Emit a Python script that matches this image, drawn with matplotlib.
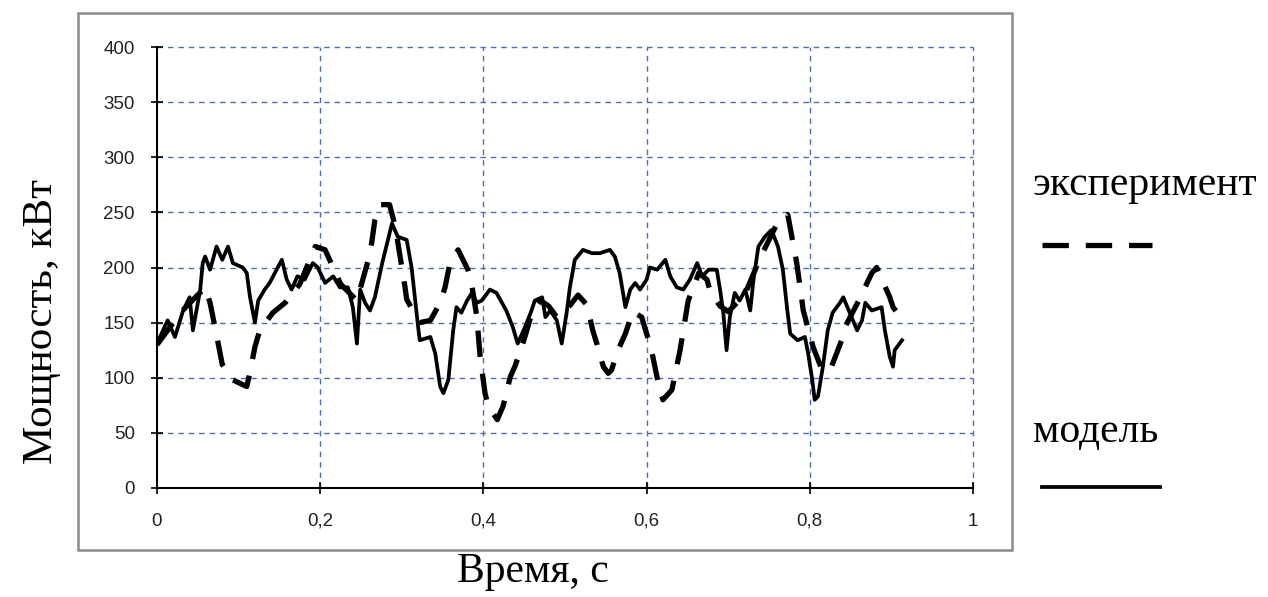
import numpy as np
import matplotlib
matplotlib.use("Agg")
import matplotlib.pyplot as plt
from matplotlib.lines import Line2D
from matplotlib.patches import Rectangle
from matplotlib.ticker import FuncFormatter

# --- model (solid line) ---
model_t = [0.0, 0.013, 0.022, 0.032, 0.04, 0.044, 0.053, 0.056, 0.059, 0.065,
           0.073, 0.08, 0.087, 0.093, 0.105, 0.11, 0.114, 0.12, 0.124, 0.132,
           0.138, 0.148, 0.153, 0.159, 0.165, 0.172, 0.181, 0.191, 0.197, 0.206,
           0.216, 0.224, 0.234, 0.24, 0.245, 0.249, 0.255, 0.261, 0.267, 0.276,
           0.283, 0.288, 0.295, 0.306, 0.312, 0.316, 0.32, 0.322, 0.335, 0.341,
           0.347, 0.351, 0.357, 0.363, 0.367, 0.373, 0.38, 0.386, 0.392, 0.398,
           0.408, 0.416, 0.428, 0.436, 0.442, 0.451, 0.459, 0.463, 0.472, 0.476,
           0.482, 0.49, 0.496, 0.502, 0.506, 0.512, 0.522, 0.533, 0.543, 0.555,
           0.561, 0.567, 0.574, 0.58, 0.586, 0.592, 0.6, 0.604, 0.613, 0.623,
           0.629, 0.637, 0.645, 0.653, 0.662, 0.668, 0.676, 0.686, 0.69, 0.694,
           0.698, 0.702, 0.708, 0.714, 0.721, 0.727, 0.731, 0.737, 0.745, 0.753,
           0.761, 0.767, 0.772, 0.776, 0.785, 0.794, 0.798, 0.803, 0.806, 0.81,
           0.816, 0.822, 0.828, 0.837, 0.841, 0.849, 0.858, 0.864, 0.868, 0.876,
           0.888, 0.892, 0.898, 0.902, 0.904, 0.913]
model_p = [131, 152, 137, 161, 173, 143, 180, 204, 210, 198,
           219, 207, 219, 204, 200, 195, 173, 150, 170, 180,
           186, 200, 207, 189, 180, 192, 189, 204, 200, 186,
           192, 182, 182, 164, 131, 180, 168, 161, 173, 204,
           225, 240, 228, 225, 200, 173, 146, 134, 137, 122,
           92, 86, 98, 143, 164, 159, 170, 177, 168, 170,
           180, 177, 161, 146, 131, 146, 161, 170, 173, 155,
           161, 152, 131, 159, 182, 207, 216, 213, 213, 216,
           210, 195, 164, 180, 186, 180, 189, 200, 198, 207,
           192, 182, 180, 189, 204, 192, 198, 198, 180, 159,
           125, 155, 177, 170, 180, 161, 189, 219, 228, 234,
           219, 198, 164, 140, 134, 137, 122, 98, 80, 83,
           110, 143, 159, 168, 173, 159, 143, 152, 168, 161,
           164, 143, 119, 110, 125, 134]

# --- experiment (dashed line) ---
exp_t = [0.0, 0.03, 0.059, 0.065, 0.071, 0.075, 0.08, 0.093, 0.11, 0.114,
         0.12, 0.126, 0.142, 0.157, 0.175, 0.194, 0.206, 0.225, 0.245, 0.259,
         0.263, 0.267, 0.273, 0.285, 0.292, 0.304, 0.306, 0.322, 0.335, 0.347,
         0.353, 0.359, 0.369, 0.381, 0.386, 0.392, 0.396, 0.402, 0.406, 0.417,
         0.424, 0.433, 0.439, 0.45, 0.46, 0.47, 0.48, 0.49, 0.5, 0.516,
         0.527, 0.534, 0.539, 0.547, 0.553, 0.557, 0.565, 0.574, 0.583, 0.594,
         0.606, 0.616, 0.62, 0.631, 0.641, 0.651, 0.664, 0.674, 0.678, 0.69,
         0.70, 0.72, 0.74, 0.76, 0.773, 0.784, 0.792, 0.804, 0.815, 0.825,
         0.839, 0.841, 0.86, 0.876, 0.882, 0.898, 0.902, 0.906]
exp_p = [130, 160, 182, 168, 146, 131, 112, 98, 92, 105,
         128, 143, 159, 168, 185, 219, 216, 185, 170, 207,
         222, 243, 257, 257, 237, 182, 171, 150, 152, 168,
         182, 204, 216, 198, 183, 155, 119, 86, 74, 62,
         74, 101, 111, 135, 160, 170, 165, 155, 160, 175,
         166, 143, 131, 110, 104, 107, 125, 140, 160, 155,
         125, 89, 80, 89, 125, 170, 195, 189, 178, 165,
         160, 175, 210, 240, 248, 204, 161, 128, 107, 107,
         134, 143, 170, 195, 200, 173, 164, 160]

x_ticks = [0, 0.2, 0.4, 0.6, 0.8, 1]
y_ticks = [0, 50, 100, 150, 200, 250, 300, 350, 400]

fig = plt.figure(figsize=(12.68, 5.97), dpi=100)

# grey frame around the plot area (Excel chart border)
fig.add_artist(Rectangle((78 / 1268.0, 1 - 550 / 597.0), 934 / 1268.0, 537 / 597.0,
                         transform=fig.transFigure, fill=False,
                         edgecolor="#8c8c8c", linewidth=1.8))

ax = fig.add_axes([157 / 1268.0, 1 - 488 / 597.0, 816 / 1268.0, 441 / 597.0])

ax.plot(exp_t, exp_p, color="black", linewidth=3.8, linestyle=(0, (5, 3.2)),
        solid_capstyle="butt", dash_capstyle="butt")
ax.plot(model_t, model_p, color="black", linewidth=2.7, solid_joinstyle="round")

ax.set_xlim(0, 1)
ax.set_ylim(0, 400)
ax.set_xticks(x_ticks)
ax.set_yticks(y_ticks)
ax.xaxis.set_major_formatter(FuncFormatter(lambda v, p: ("%g" % v).replace(".", ",")))

grid_style = dict(color="#4a6fb5", linewidth=1.0, linestyle=(0, (4, 3.5)), clip_on=False)
for v in y_ticks[1:]:
    ax.axhline(v, zorder=0, **grid_style)
for v in x_ticks[1:]:
    ax.axvline(v, zorder=0, **grid_style)

for s in ["top", "right"]:
    ax.spines[s].set_visible(False)
ax.spines["left"].set_linewidth(1.5)
ax.spines["bottom"].set_linewidth(1.5)
ax.tick_params(direction="inout", length=8, width=1.2, colors="black",
               labelsize=13.5)
ax.tick_params(axis="y", pad=12)
ax.tick_params(axis="x", pad=14)
for lab in ax.get_xticklabels() + ax.get_yticklabels():
    lab.set_fontfamily("Liberation Sans")
    lab.set_color("#222222")

serif = "Liberation Serif"
fig.text(42 / 1268.0, 1 - 322 / 597.0, "Мощность, кВт", rotation=90,
         ha="center", va="center", fontsize=31, family=serif)
fig.text(533 / 1268.0, 1 - 572 / 597.0, "Время, с",
         ha="center", va="center", fontsize=30, family=serif)

# legend drawn to the right, as in the source
fig.text(1033 / 1268.0, 1 - 185 / 597.0, "эксперимент",
         ha="left", va="center", fontsize=30, family=serif)
fig.text(1033 / 1268.0, 1 - 432 / 597.0, "модель",
         ha="left", va="center", fontsize=30, family=serif)
fig.add_artist(Line2D([1042 / 1268.0, 1152 / 1268.0], [1 - 245 / 597.0] * 2,
                      transform=fig.transFigure, color="black", linewidth=3.8,
                      linestyle=(0, (5, 3.2)), dash_capstyle="butt"))
fig.add_artist(Line2D([1042 / 1268.0, 1160 / 1268.0], [1 - 487 / 597.0] * 2,
                      transform=fig.transFigure, color="black", linewidth=2.7))

fig.savefig("out.png", dpi=100)
plt.close(fig)
